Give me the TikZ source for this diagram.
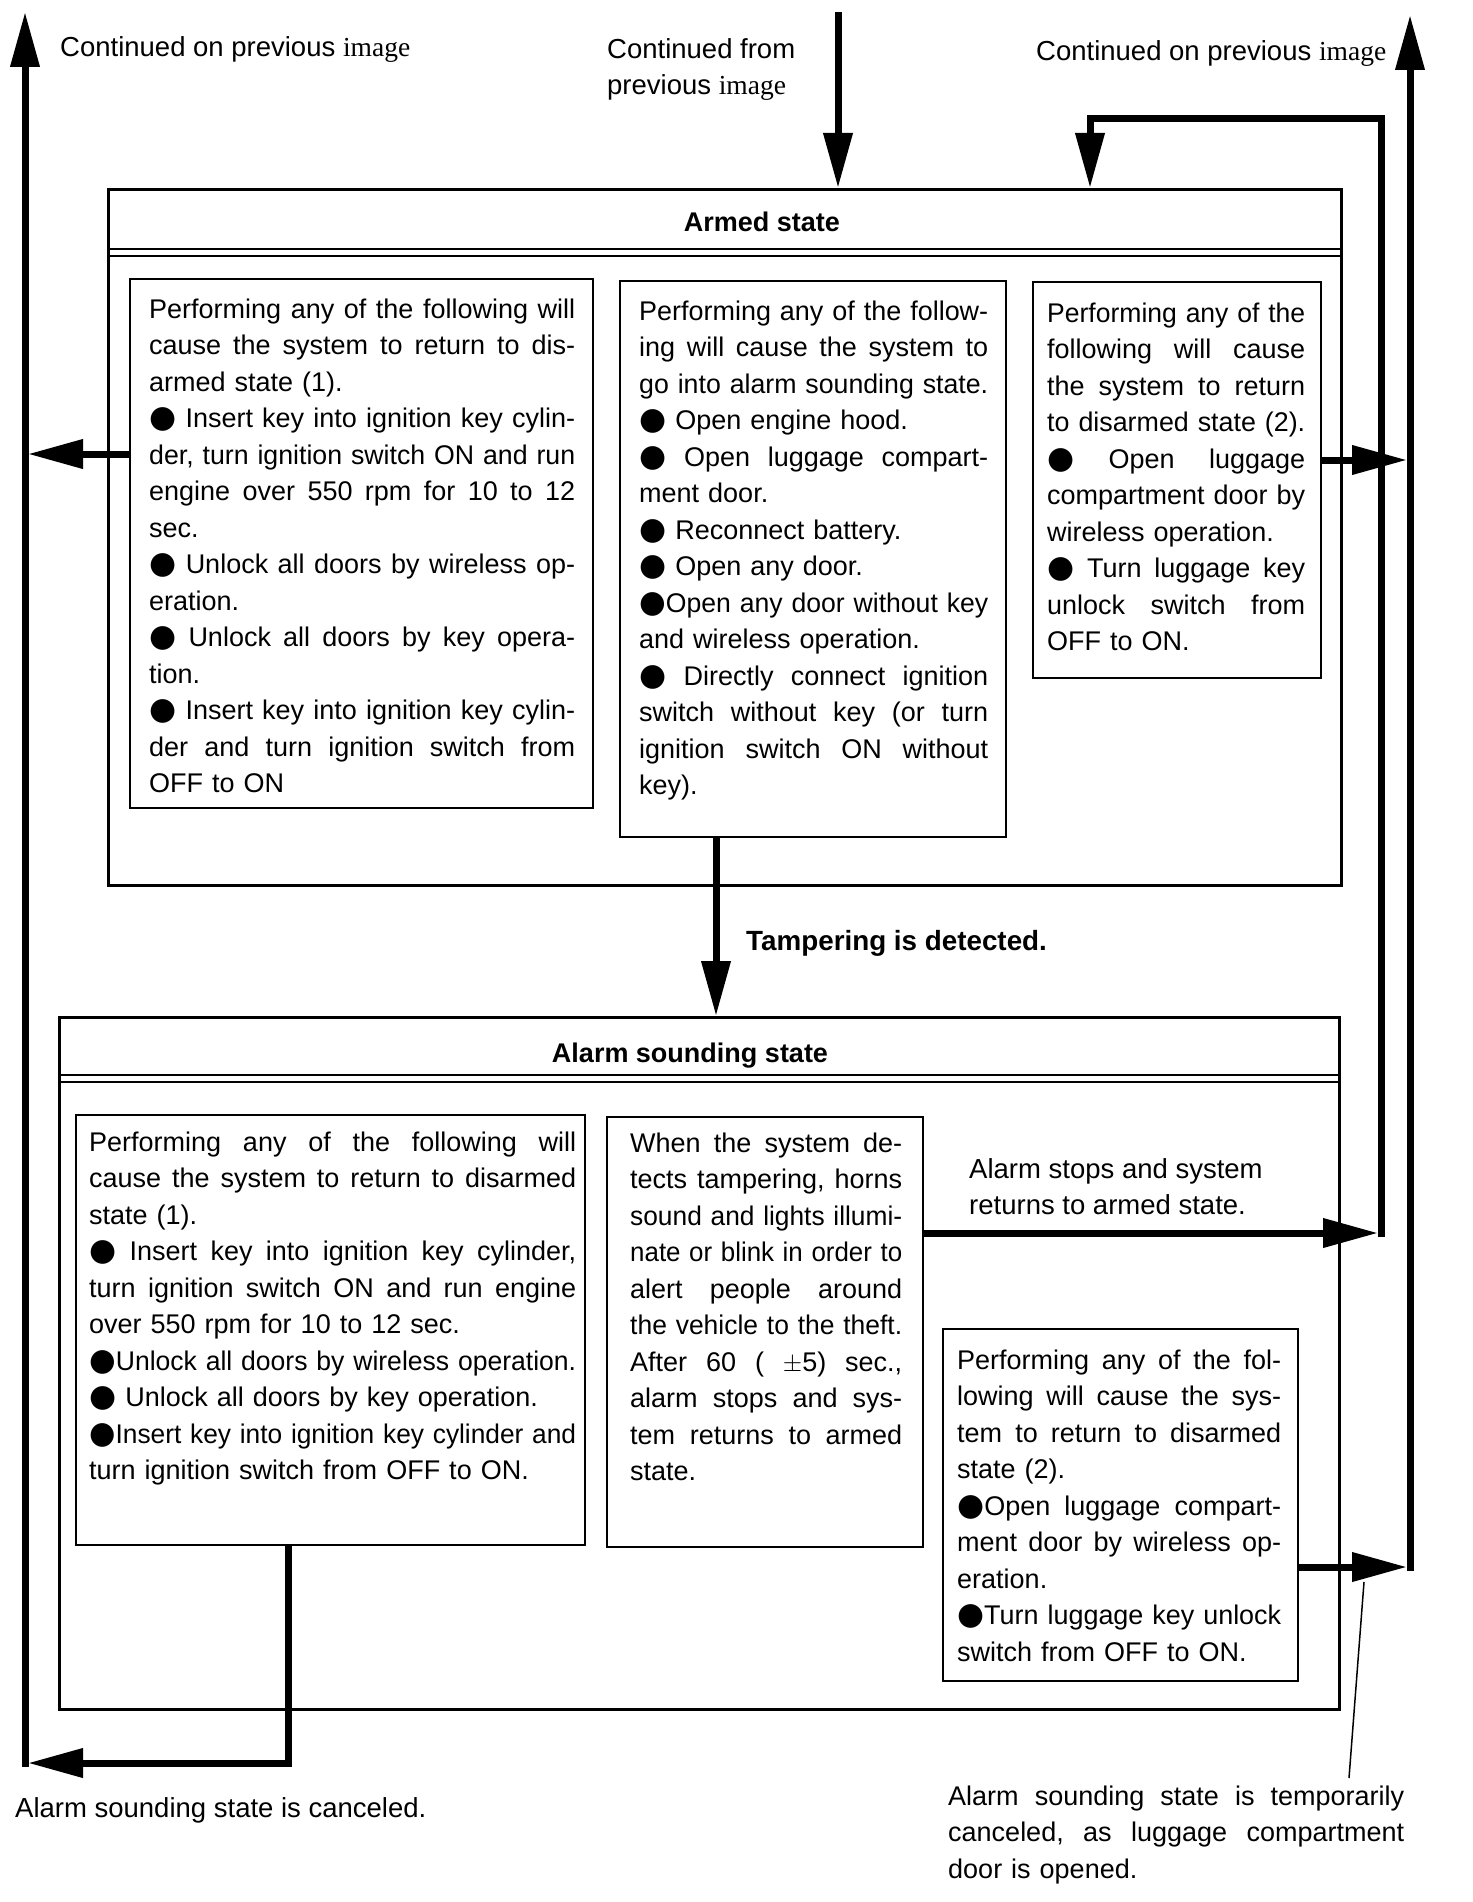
\documentclass[tikz,border=0pt]{standalone}
\usepackage{fontspec}
\setmainfont{Liberation Sans}
\newfontfamily\serifimg{Liberation Serif}
\newfontfamily\djv{DejaVu Sans}
\usetikzlibrary{arrows.meta,calc}
\setlength{\parindent}{0pt}
\newlength\jlw
\newlength\tw
\newcommand\bul{{\djv\scalebox{1.15}{●}}}
\newcommand\jl[1]{\settowidth\jlw{\frenchspacing#1}\rule{0pt}{20pt}\ifdim\jlw>\tw\resizebox{\tw}{\height}{\frenchspacing#1}\else\hbox to \tw{\frenchspacing\spaceskip=\fontdimen2\font plus 1fil\relax#1}\fi\par}
\newcommand\el[1]{\settowidth\jlw{\frenchspacing#1}\rule{0pt}{20pt}\ifdim\jlw>\tw\resizebox{\tw}{\height}{\frenchspacing#1}\else\hbox{\frenchspacing#1}\fi\par}
\tikzset{
 conn/.style={line width=7pt, line join=miter},
 arr/.style={conn, -{Triangle[length=55pt,width=28pt]}},
 bigbox/.style={draw, line width=3pt, anchor=north west, inner sep=0pt},
 inbox/.style={draw, line width=1.8pt, anchor=north west, inner sep=0pt},
 txt/.style={inner sep=0pt, anchor=north west, font=\fontsize{27pt}{36.5pt}\selectfont,
   text width=#1, execute at begin node={\setlength\tw{#1}}},
 lbl/.style={inner sep=0pt, anchor=base west, font=\fontsize{27.5pt}{36.5pt}\selectfont},
 title/.style={inner sep=0pt, anchor=base, font=\fontsize{27pt}{32pt}\selectfont\bfseries},
 sepline/.style={line width=2.5pt},
 leader/.style={line width=1.5pt}
}
\begin{document}
\begin{tikzpicture}[x=1pt,y=-1pt]
\useasboundingbox (0,0) rectangle (1472,1902);
% coordinates of the outer connectors
\coordinate (Ltop) at (25,12);
\coordinate (Lbot) at (25,1767);
\coordinate (Lx) at (28,0);
\coordinate (Ctop) at (838,12);
\coordinate (RinB) at (1381,1237);
\coordinate (RinT) at (1381,119);
\coordinate (RtopL) at (1090,119);
\coordinate (RoutB) at (1410,1571);
\coordinate (RoutT) at (1410,15);
\coordinate (Rinx) at (1378,0);
\coordinate (Routx) at (1407,0);
\coordinate (ldA) at (1364,1582);
\coordinate (ldB) at (1349,1778);

% armed state
\node[bigbox, minimum width=1233pt, minimum height=696pt] (armed) at (107,188) {};
\draw[sepline] ($(armed.north west)+(0,61)$) -- ($(armed.north east)+(0,61)$);
\draw[sepline] ($(armed.north west)+(0,68)$) -- ($(armed.north east)+(0,68)$);
\node[title] (armedT) at (762,232) {Armed state};

\node[inbox, minimum width=463pt, minimum height=529pt] (a1) at (129,278) {};
\node[inbox, minimum width=386pt, minimum height=556pt] (a2) at (619,280) {};
\node[inbox, minimum width=288pt, minimum height=396pt] (a3) at (1032,281) {};

\node[txt=426pt] (a1t) at (149,298) {%
\jl{Performing any of the following will}
\jl{cause the system to return to dis-}
\el{armed state (1).}
\jl{\bul\ Insert key into ignition key cylin-}
\jl{der, turn ignition switch ON and run}
\jl{engine over 550 rpm for 10 to 12}
\el{sec.}
\jl{\bul\ Unlock all doors by wireless op-}
\el{eration.}
\jl{\bul\ Unlock all doors by key opera-}
\el{tion.}
\jl{\bul\ Insert key into ignition key cylin-}
\jl{der and turn ignition switch from}
\el{OFF to ON}};

\node[txt=349pt] (a2t) at (639,300) {%
\jl{Performing any of the follow-}
\jl{ing will cause the system to}
\el{go into alarm sounding state.}
\el{\bul\ Open engine hood.}
\jl{\bul\ Open luggage compart-}
\el{ment door.}
\el{\bul\ Reconnect battery.}
\el{\bul\ Open any door.}
\jl{\bul Open any door without key}
\el{and wireless operation.}
\jl{\bul\ Directly connect ignition}
\jl{switch without key (or turn}
\jl{ignition switch ON without}
\el{key).}};

\node[txt=258pt] (a3t) at (1047,302) {%
\jl{Performing any of the}
\jl{following will cause}
\jl{the system to return}
\el{to disarmed state (2).}
\jl{\bul\ Open luggage}
\jl{compartment door by}
\el{wireless operation.}
\jl{\bul\ Turn luggage key}
\jl{unlock switch from}
\el{OFF to ON.}};

% alarm sounding state
\node[bigbox, minimum width=1280pt, minimum height=692pt] (alarm) at (58,1016) {};
\draw[sepline] ($(alarm.north west)+(0,59)$) -- ($(alarm.north east)+(0,59)$);
\draw[sepline] ($(alarm.north west)+(0,66)$) -- ($(alarm.north east)+(0,66)$);
\node[title] (alarmT) at (690,1062) {Alarm sounding state};

\node[inbox, minimum width=509pt, minimum height=430pt] (b1) at (75,1114) {};
\node[inbox, minimum width=316pt, minimum height=430pt] (b2) at (606,1116) {};
\node[inbox, minimum width=355pt, minimum height=352pt] (b3) at (942,1328) {};

\node[txt=487pt] (b1t) at (89,1131) {%
\jl{Performing any of the following will}
\jl{cause the system to return to disarmed}
\el{state (1).}
\jl{\bul\ Insert key into ignition key cylinder,}
\jl{turn ignition switch ON and run engine}
\el{over 550 rpm for 10 to 12 sec.}
\jl{\bul Unlock all doors by wireless operation.}
\el{\bul\ Unlock all doors by key operation.}
\jl{\bul Insert key into ignition key cylinder and}
\el{turn ignition switch from OFF to ON.}};

\node[txt=272pt] (b2t) at (630,1132) {%
\jl{When the system de-}
\jl{tects tampering, horns}
\jl{sound and lights illumi-}
\jl{nate or blink in order to}
\jl{alert people around}
\jl{the vehicle to the theft.}
\jl{After 60 ( $\pm$5) sec.,}
\jl{alarm stops and sys-}
\jl{tem returns to armed}
\el{state.}};

\node[txt=324pt] (b3t) at (957,1349) {%
\jl{Performing any of the fol-}
\jl{lowing will cause the sys-}
\jl{tem to return to disarmed}
\el{state (2).}
\jl{\bul Open luggage compart-}
\jl{ment door by wireless op-}
\el{eration.}
\jl{\bul Turn luggage key unlock}
\el{switch from OFF to ON.}};

% labels
\node[lbl] (cTL) at (60,57) {Continued on previous {\serifimg image}};
\node[lbl] (cF1) at (607,59) {Continued from};
\node[lbl] (cF2) at (607,95) {previous {\serifimg image}};
\node[lbl] (cTR) at (1036,61) {Continued on previous {\serifimg image}};
\node[lbl, font=\fontsize{27.8pt}{36.5pt}\selectfont\bfseries] (tamp) at (746,950) {Tampering is detected.};
\node[lbl] (stop1) at (969,1178) {Alarm stops and system};
\node[lbl] (stop2) at (969,1214) {returns to armed state.};
\node[lbl] (canc) at (15,1817) {Alarm sounding state is canceled.};
\node[txt=456pt] (temp) at (948,1785) {%
\jl{Alarm sounding state is temporarily}
\jl{canceled, as luggage compartment}
\el{door is opened.}};

% connectors
\draw[arr] (Lbot) -- (Ltop);
\draw[arr] (Ctop) -- (Ctop |- armed.north);
\draw[arr] (RinB) -- (RinT) -| (RtopL |- armed.north);
\draw[arr] (RoutB) -- (RoutT);
\draw[arr] ($(a1.north west)+(0,176)$) coordinate (a1o) -- (a1o -| Lx);
\draw[arr] ($(a3.north east)+(0,179)$) coordinate (a3o) -- (a3o -| Routx);
\draw[arr] ($(a2.south west)+(97,0)$) coordinate (a2o) -- (a2o |- alarm.north);
\draw[arr] ($(b2.north east)+(0,117)$) coordinate (b2o) -- (b2o -| Rinx);
\draw[arr] ($(b3.north east)+(0,239)$) coordinate (b3o) -- (b3o -| Routx);
\draw[arr] ($(b1.south west)+(213,0)$) coordinate (b1o) |- ($(Lx)+(0,1763)$);
\draw[leader] (ldA) -- (ldB);
\end{tikzpicture}
\end{document}
